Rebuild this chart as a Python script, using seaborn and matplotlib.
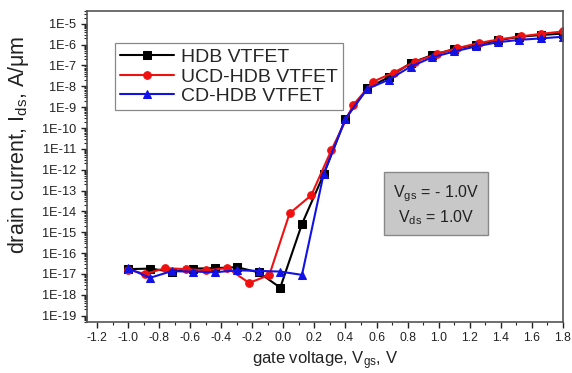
import numpy as np
import pandas as pd
import matplotlib
matplotlib.use("Agg")
import matplotlib.pyplot as plt
from matplotlib.ticker import FixedLocator, FuncFormatter, LogLocator, MultipleLocator, NullFormatter
import seaborn as sns

# Gate voltage grids (V)
vgs_hdb = [-1.0, -0.86, -0.72, -0.58, -0.44, -0.30, -0.16, -0.02, 0.12, 0.26, 0.40,
           0.54, 0.68, 0.82, 0.96, 1.10, 1.24, 1.38, 1.52, 1.66, 1.80]
vgs_ucd = [-1.0, -0.89, -0.76, -0.63, -0.50, -0.36, -0.22, -0.09, 0.04, 0.18, 0.31,
           0.45, 0.58, 0.71, 0.85, 0.99, 1.12, 1.26, 1.39, 1.53, 1.66, 1.80]
vgs_cd = vgs_hdb

# Drain currents (A/um)
ids_hdb = [1.7e-17, 1.8e-17, 1.3e-17, 1.8e-17, 1.9e-17, 2.1e-17, 1.2e-17, 2.2e-18,
           2.5e-15, 6.0e-13, 2.8e-10, 8.0e-9, 2.8e-8, 1.3e-7, 3.2e-7, 6.1e-7,
           1.0e-6, 1.6e-6, 2.4e-6, 2.9e-6, 3.4e-6]
ids_ucd = [1.6e-17, 1.0e-17, 1.9e-17, 1.7e-17, 1.5e-17, 1.9e-17, 3.7e-18, 9.0e-18,
           8.0e-15, 6.0e-14, 9.0e-12, 1.3e-9, 1.7e-8, 4.6e-8, 1.55e-7, 3.6e-7,
           6.8e-7, 1.2e-6, 1.8e-6, 2.5e-6, 3.3e-6, 4.3e-6]
ids_cd = [1.9e-17, 6.5e-18, 1.35e-17, 1.3e-17, 1.2e-17, 1.5e-17, 1.4e-17, 1.3e-17,
          9.0e-18, 6.5e-13, 2.8e-10, 7.5e-9, 2.1e-8, 8.9e-8, 2.5e-7, 4.7e-7,
          8.2e-7, 1.3e-6, 1.7e-6, 2.0e-6, 2.4e-6]

labels = ["HDB VTFET", "UCD-HDB VTFET", "CD-HDB VTFET"]
x_ticks = [-1.2, -1.0, -0.8, -0.6, -0.4, -0.2, 0.0, 0.2, 0.4, 0.6, 0.8, 1.0, 1.2, 1.4, 1.6, 1.8]
y_ticks = [1e-5, 1e-6, 1e-7, 1e-8, 1e-9, 1e-10, 1e-11, 1e-12, 1e-13, 1e-14,
           1e-15, 1e-16, 1e-17, 1e-18, 1e-19]

sns.set_style("ticks")
plt.rcParams["font.family"] = ["Liberation Sans", "DejaVu Sans"]
plt.rcParams["mathtext.fontset"] = "custom"
plt.rcParams["mathtext.rm"] = "Liberation Sans"
plt.rcParams["mathtext.it"] = "Liberation Sans"

fig = plt.figure(figsize=(5.72, 3.73), dpi=100)
ax = fig.add_axes([0.152, 0.137, 0.832, 0.834])

series = [
    (vgs_hdb, ids_hdb, labels[0], "black", "s"),
    (vgs_ucd, ids_ucd, labels[1], "#f01010", "o"),
    (vgs_cd, ids_cd, labels[2], "#1212e6", "^"),
]
for vx, iy, lab, col, mk in series:
    df = pd.DataFrame({"Vgs": vx, "Ids": iy})
    sns.lineplot(data=df, x="Vgs", y="Ids", ax=ax, color=col, marker=mk,
                 markersize=5.5, markeredgecolor=col, linewidth=1.5,
                 label=lab, sort=False)

ax.set_yscale("log")
ax.set_xlim(-1.265, 1.8)
ax.set_ylim(5e-20, 4.2e-5)

ax.xaxis.set_major_locator(FixedLocator(x_ticks))
ax.xaxis.set_minor_locator(MultipleLocator(0.1))
ax.xaxis.set_major_formatter(FuncFormatter(lambda v, p: f"{v:.1f}"))
ax.yaxis.set_major_locator(FixedLocator(y_ticks))
ax.yaxis.set_minor_locator(LogLocator(base=10, subs=np.arange(2, 10), numticks=30))
ax.yaxis.set_minor_formatter(NullFormatter())
ax.yaxis.set_major_formatter(FuncFormatter(lambda v, p: f"1E{int(round(np.log10(v)))}"))

ax.tick_params(axis="both", which="major", direction="out", length=4.5, width=1.0,
               colors="#222222", top=False, right=False)
ax.tick_params(axis="y", which="major", labelsize=9.2)
ax.tick_params(axis="x", which="major", labelsize=8.8, pad=3)
ax.tick_params(axis="both", which="minor", direction="out", length=2.5, width=0.8,
               top=False, right=False)
for sp in ax.spines.values():
    sp.set_visible(True)
    sp.set_color("#555555")
    sp.set_linewidth(1.2)

ax.set_xlabel(r"gate voltage, V$_{\rm gs}$, V", fontsize=12, color="#222222")
ax.set_ylabel(r"drain current, I$_{\rm ds}$, A/μm", fontsize=15.5, color="#222222")
ax.xaxis.set_label_coords(0.5, -0.088)
ax.yaxis.set_label_coords(-0.118, 0.569)

leg = ax.legend(loc="upper left", bbox_to_anchor=(0.059, 0.895), fontsize=14,
                handlelength=2.8, handletextpad=0.35, borderpad=0.25,
                labelspacing=0.1, borderaxespad=0.0, fancybox=False,
                framealpha=1.0, edgecolor="#888888")
leg.get_frame().set_linewidth(0.9)

ax.text(0.733, 0.376, "V$_{\\rm gs}$ = - 1.0V\nV$_{\\rm ds}$ = 1.0V", transform=ax.transAxes,
        ha="center", va="center", fontsize=11.5, color="#222222", linespacing=1.3,
        bbox=dict(boxstyle="square,pad=0.55", facecolor="#c8c8c8", edgecolor="#888888",
                  linewidth=1.0))

fig.savefig("out.png", dpi=100)
